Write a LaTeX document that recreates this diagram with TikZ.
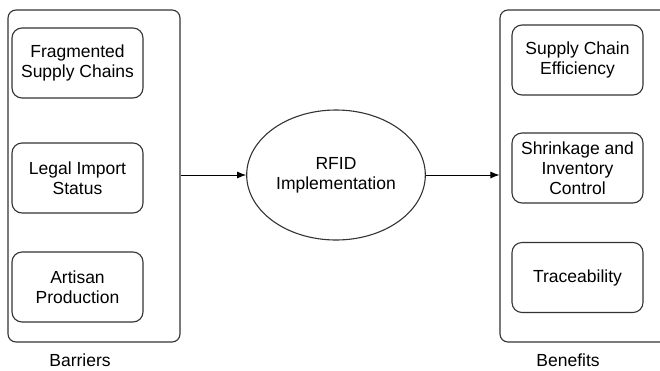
\documentclass[tikz,border=0pt]{standalone}
\usepackage{fontspec}
\setmainfont{Liberation Sans}
\usetikzlibrary{shapes.geometric,arrows.meta}

\tikzset{
  group/.style={draw=black!80, line width=1.1pt, rounded corners=8pt},
  item/.style={draw=black!80, line width=1.1pt, rounded corners=10pt,
    minimum width=131pt, minimum height=70pt, align=center,
    font=\fontsize{17.5}{20}\selectfont},
  caption/.style={font=\fontsize{17.5}{20}\selectfont}
}

\begin{document}
\begin{tikzpicture}[x=1pt,y=-1pt]
\useasboundingbox (0,0) rectangle (660,370);
\clip (0,0) rectangle (660,370);

\node[group, minimum width=172pt, minimum height=332pt] (bar) at (94,176) {};
\node[group, minimum width=172pt, minimum height=332pt] (ben) at (586,176) {};

\node[item] (frag) at (77.5,63) {Fragmented\\Supply Chains};
\node[item] (legal) at (77.5,178) {Legal Import\\Status};
\node[item] (art) at (77.5,287) {Artisan\\Production};

\node[draw=black!80, line width=1.1pt, ellipse, minimum width=174pt, minimum height=130pt,
  align=center, font=\fontsize{17.5}{20}\selectfont] (rfid) at (336,175) {RFID\\Implementation};

\node[item] (eff) at (577.5,60) {Supply Chain\\Efficiency};
\node[item] (shrink) at (577.5,168) {Shrinkage and\\Inventory\\Control};
\node[item] (trace) at (577.5,277.5) {Traceability};

\node[caption] (barlbl) at (80,360) {Barriers};
\node[caption] (benlbl) at (568,360) {Benefits};

\path[draw,line width=0.9pt,->,>={Latex[length=9pt,width=7pt]}] (bar.east |- rfid) -- (rfid.west);
\path[draw,line width=0.9pt,->,>={Latex[length=9pt,width=7pt]}] (rfid.east) -- (ben.west |- rfid);
\end{tikzpicture}
\end{document}
